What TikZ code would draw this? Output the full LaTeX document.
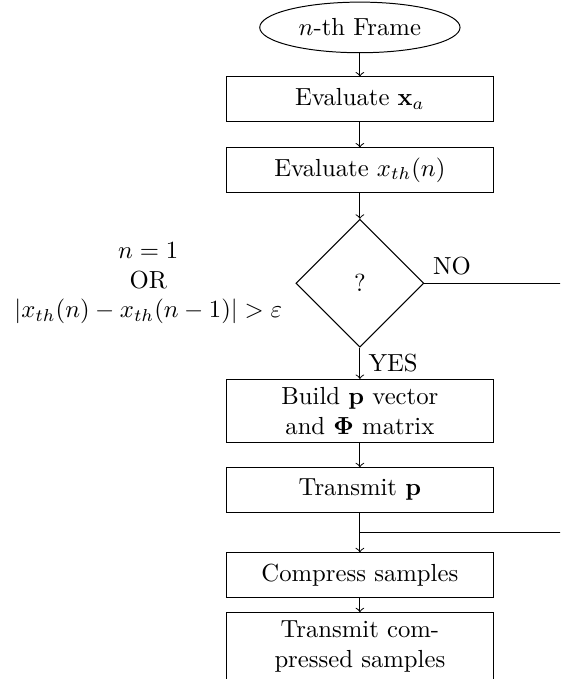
\documentclass[tikz,border=0pt]{standalone}
\usetikzlibrary{shapes.geometric}
\begin{document}
\begin{tikzpicture} [block/.style = {draw, text width = 3.56cm, minimum height = 0.63cm, align = center},
	decision/.style = {draw, diamond, minimum size = 1.82cm, inner sep = 0pt},
	start/.style = {draw, ellipse, minimum width = 2.85cm, minimum height = 0.72cm}]
	\clip (0,0) rectangle (7.97,-9.66);
	% main column
	\node [start] (frame) at (5.12,-0.39) {$n$-th Frame};
	\node [block] (evalx) at (5.12,-1.41) {Evaluate $\mathbf{x}_a$};
	\node [block] (evalth) at (5.12,-2.42) {Evaluate $x_{th}(n)$};
	\node [decision] (test) at (5.12,-4.03) {?};
	\node [align = center] (cond) at (2.11,-4.03) {$n=1$\\OR\\$|x_{th}(n)-x_{th}(n-1)|>\varepsilon$};
	\node [block] (build) at (5.12,-5.85) {Build $\mathbf{p}$ vector\\and $\mathbf{\Phi}$ matrix};
	\node [block] (sendp) at (5.12,-6.97) {Transmit $\mathbf{p}$};
	\node [block] (compress) at (5.12,-8.18) {Compress samples};
	\node [block, anchor = north] (sendc) at (5.12,-8.71) {Transmit com-\\pressed samples};
	\coordinate (join) at (5.12,-7.57);
	\coordinate (noend) at (8.3,-4.03);
	\coordinate (joinend) at (8.3,-7.57);
	% arrows
	\draw [->] (frame) -- (evalx);
	\draw [->] (evalx) -- (evalth);
	\draw [->] (evalth) -- (test);
	\draw [->] (test) -- node [right] {YES} (build);
	\draw [->] (build) -- (sendp);
	\draw [->] (sendp) -- (compress);
	\draw [->] (compress) -- (sendc);
	\draw (test.east) node [above right] {NO} -- (noend);
	\draw (join) -- (joinend);
\end{tikzpicture}
\end{document}
